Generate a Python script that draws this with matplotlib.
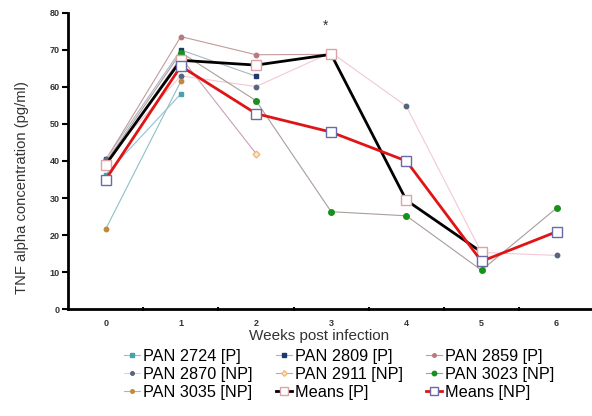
import matplotlib
matplotlib.use("Agg")
import matplotlib.pyplot as plt
import numpy as np

nan = np.nan

# TNF alpha concentration (pg/ml) per week post infection
weeks = [0, 1, 2, 3, 4, 5, 6]
pan_2724 = [36.3, 58.1, nan, nan, nan, nan, nan]
pan_2809 = [40.5, 70.0, 62.9, nan, nan, nan, nan]
pan_2859 = [40.2, 73.6, 68.7, 68.8, 29.4, 15.4, nan]
pan_2870 = [40.5, 63.0, 60.1, 69.3, 54.8, 15.3, 14.5]
pan_2911 = [38.6, 68.0, 42.0, nan, nan, nan, nan]
pan_3023 = [39.6, 69.3, 56.3, 26.3, 25.2, 10.5, 27.3]
pan_3035 = [21.6, 61.5, nan, nan, nan, nan, nan]
means_p = [39.0, 67.2, 65.9, 68.8, 29.4, 15.4, nan]
means_np = [35.0, 65.6, 52.8, 47.8, 40.0, 12.9, 20.9]

plt.rcParams['font.family'] = ['Liberation Sans', 'DejaVu Sans']

fig = plt.figure(figsize=(5.92, 4.16), dpi=100)
ax = fig.add_axes([0.115, 0.257, 0.885, 0.712])

thin = dict(linewidth=0.8)
h = []
h += ax.plot(weeks, pan_2724, color='#8cc3d6', marker='s', markersize=3.2,
             markerfacecolor='#4aa3a8', markeredgecolor='#4aa3a8', label='PAN 2724 [P]', **thin)
h += ax.plot(weeks, pan_2809, color='#a9b6c8', marker='s', markersize=3.5,
             markerfacecolor='#1d3a6e', markeredgecolor='#1d3a6e', label='PAN 2809 [P]', **thin)
h += ax.plot(weeks, pan_2859, color='#c49a9a', marker='o', markersize=3.2,
             markerfacecolor='#b87a7a', markeredgecolor='#b87a7a', label='PAN 2859 [P]', **thin)
h += ax.plot(weeks, pan_2870, color='#f2c9d2', marker='o', markersize=3.2,
             markerfacecolor='#56667f', markeredgecolor='#56667f', label='PAN 2870 [NP]', **thin)
h += ax.plot(weeks, pan_2911, color='#c8a0b8', marker='D', markersize=3.5,
             markerfacecolor='#fbe6cf', markeredgecolor='#f0b880', label='PAN 2911 [NP]', **thin)
h += ax.plot(weeks, pan_3023, color='#a89e9a', marker='o', markersize=4,
             markerfacecolor='#17911c', markeredgecolor='#17911c', label='PAN 3023 [NP]', **thin)
h += ax.plot(weeks, pan_3035, color='#8fc0c4', marker='o', markersize=3.2,
             markerfacecolor='#c08a3a', markeredgecolor='#c08a3a', label='PAN 3035 [NP]', **thin)
h += ax.plot(weeks, means_p, color='black', linewidth=2.0, marker='s', markersize=7,
             markerfacecolor='white', markeredgecolor='#e0a0a8', markeredgewidth=1.0,
             label='Means [P]', zorder=4)
h += ax.plot(weeks, means_np, color='#e01414', linewidth=2.0, marker='s', markersize=7.5,
             markerfacecolor='white', markeredgecolor='#6a6aa8', markeredgewidth=1.0,
             label='Means [NP]', zorder=5)

ax.text(2.93, 76.5, '*', ha='center', va='center', fontsize=10, color='#333333')

ax.set_xlim(-0.5, 6.47)
ax.set_ylim(0, 80)
ax.set_yticks(range(0, 81, 10))
ax.set_xticks(weeks)
ax.set_xticks(np.arange(0.5, 6.5, 1), minor=True)
ax.tick_params(axis='x', which='major', length=0, pad=7, labelsize=6.5)
ax.tick_params(axis='x', which='minor', length=3, width=1.5, direction='inout')
ax.tick_params(axis='y', length=4, width=1.5, pad=2, labelsize=6.5)
for lab in ax.get_xticklabels() + ax.get_yticklabels():
    lab.set_fontweight('bold')
    lab.set_color('#333333')

for s in ['top', 'right']:
    ax.spines[s].set_visible(False)
for s in ['left', 'bottom']:
    ax.spines[s].set_linewidth(2)

ax.set_xlabel('Weeks post infection', fontsize=11, color='#333333')
ax.xaxis.set_label_coords(0.479, -0.068)
ax.set_ylabel('TNF alpha concentration (pg/ml)', fontsize=10.6, color='#333333')
ax.yaxis.set_label_coords(-0.075, 0.41)

order = [0, 3, 6, 1, 4, 7, 2, 5, 8]
fig.legend([h[i] for i in order], [h[i].get_label() for i in order],
           loc='center', bbox_to_anchor=(0.573, 0.1), ncol=3, frameon=False,
           fontsize=11.7, handlelength=1.0, handletextpad=0.2, labelspacing=0.2,
           columnspacing=1.4, borderpad=0, markerscale=0.8)

fig.savefig('out.png', dpi=100)
